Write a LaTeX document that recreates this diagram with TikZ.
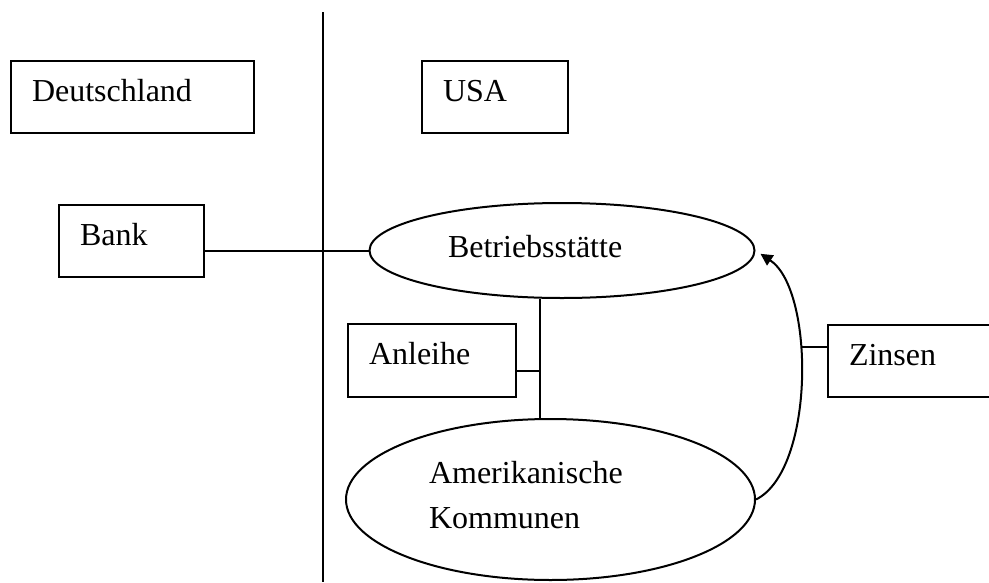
\documentclass[tikz,border=0pt]{standalone}
\usepackage{fontspec}
\setmainfont{Liberation Serif}
\usetikzlibrary{arrows.meta,shapes.geometric}

\begin{document}
\begin{tikzpicture}[x=1pt,y=-1pt,line width=2pt,
  every node/.style={font=\fontsize{32}{45}\selectfont},
  box/.style={draw,rectangle,anchor=north west,align=left,inner xsep=21pt,inner ysep=0pt,
    minimum height=72pt,text height=20pt,text depth=12pt},
  oval/.style={draw,ellipse,inner sep=0pt},
  txt/.style={anchor=base west,inner sep=0pt,align=left}]
\useasboundingbox (0,0) rectangle (989,582);
\clip (0,0) rectangle (989,582);
% Grenze
\draw (323,12) -- (323,582);
% Kaesten
\node[box,text width=201pt] (de) at (10,60) {Deutschland};
\node[box,text width=104pt] (usa) at (421,60) {USA};
\node[box,text width=103pt] (bank) at (58,204) {Bank};
\node[box,text width=126pt,minimum height=73pt] (anl) at (347,323) {Anleihe};
\node[box,text width=160pt] (zin) at (827,324) {Zinsen};
% Ellipsen
\node[oval,minimum width=385pt,minimum height=95pt] (bst) at (562,250.5) {};
\node[txt] (bsttxt) at (447,257) {Betriebsstätte};
\node[oval,minimum width=409pt,minimum height=161pt] (kom) at (550.5,499.5) {};
\node[txt] (komtxt) at (428,528) {Amerikanische\\Kommunen};
% Verbindungen
\coordinate (anlk) at (540,371);
\coordinate (zink) at (801,347);
\draw (bst.west) -- (bst.west -| bank.east);
\draw (bst.south -| anlk) -- (kom.north -| anlk);
\draw (anl.east |- anlk) -- (anlk);
\draw[-{Triangle[length=12pt,width=12pt]},shorten >=6pt] (kom.east) .. controls (815,470) and (815,290) .. (bst.east);
\draw (zink) -- (zink -| zin.west);
\end{tikzpicture}
\end{document}
